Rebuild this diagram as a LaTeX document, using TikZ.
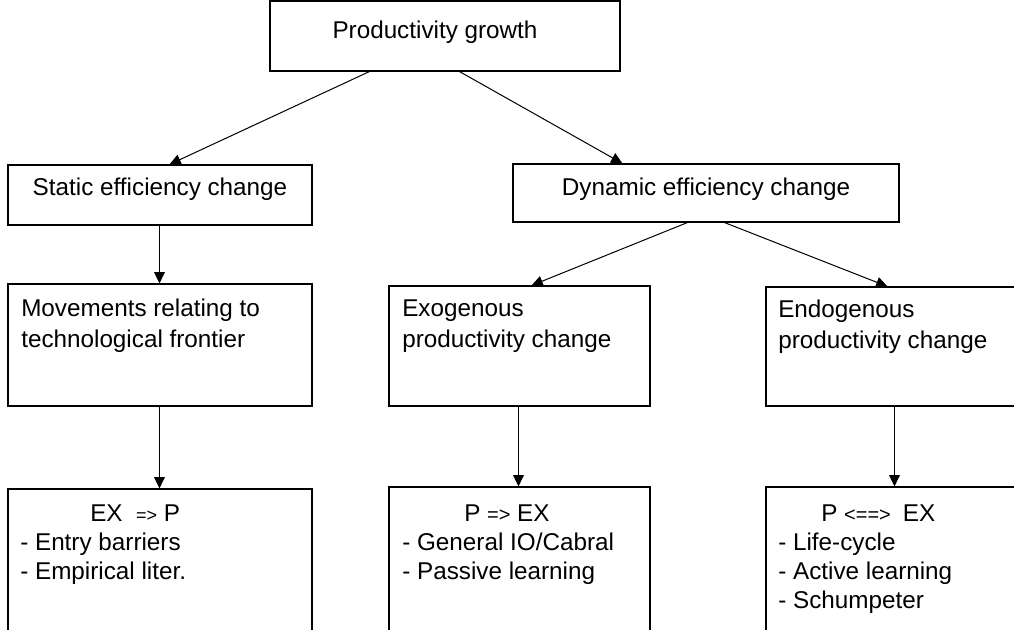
\documentclass[tikz,border=0pt]{standalone}
\usepackage{fontspec}
\setmainfont{Liberation Sans}
\usetikzlibrary{fit,calc,arrows.meta}
\newcommand{\arrf}{\fontsize{13.5}{16}\selectfont}
\newcommand{\arrg}{\fontsize{15}{18}\selectfont}
\tikzset{
  box/.style={draw=black, line width=0.8pt, inner sep=0pt},
  txt/.style={inner sep=0pt, font=\fontsize{18.2}{22}\selectfont},
  conn/.style={draw=black, line width=0.75pt, -{Triangle[length=8.5pt,width=8pt]}},
}
\begin{document}
\begin{tikzpicture}[x=0.75pt,y=-0.75pt]
\useasboundingbox (0,0) rectangle (1014,629);
\clip (0,0) rectangle (1014,629);
\fill[white] (0,0) rectangle (1014,629);

% box corners
\coordinate (a1) at (270,1);   \coordinate (a2) at (620,71);
\coordinate (b1) at (8,165);   \coordinate (b2) at (312,225);
\coordinate (c1) at (513,164); \coordinate (c2) at (899,222);
\coordinate (d1) at (8,284);   \coordinate (d2) at (312,406);
\coordinate (e1) at (389,286); \coordinate (e2) at (650,406);
\coordinate (f1) at (766,287); \coordinate (f2) at (1040,406);
\coordinate (g1) at (8,489);   \coordinate (g2) at (312,680);
\coordinate (h1) at (389,487); \coordinate (h2) at (650,680);
\coordinate (i1) at (766,487); \coordinate (i2) at (1040,680);

% boxes
\node[box, fit=(a1)(a2)] (top) {};
\node[box, fit=(b1)(b2)] (stat) {};
\node[box, fit=(c1)(c2)] (dyn) {};
\node[box, fit=(d1)(d2)] (mov) {};
\node[box, fit=(e1)(e2)] (exo) {};
\node[box, fit=(f1)(f2)] (endo) {};
\node[box, fit=(g1)(g2)] (bl) {};
\node[box, fit=(h1)(h2)] (bm) {};
\node[box, fit=(i1)(i2)] (br) {};

% texts
\node[txt, anchor=base] (ttop) at (435,38) {Productivity growth};
\node[txt, anchor=base] (tstat) at (160,195) {Static efficiency change};
\node[txt, anchor=base] (tdyn) at (706,195) {Dynamic efficiency change};

\node[txt, anchor=base west] (tmov1) at (21,316) {Movements relating to};
\node[txt, anchor=base west] (tmov2) at (21,347) {technological frontier};
\node[txt, anchor=base west] (texo1) at (402,316) {Exogenous};
\node[txt, anchor=base west] (texo2) at (402,347) {productivity change};
\node[txt, anchor=base west] (tendo1) at (778,317) {Endogenous};
\node[txt, anchor=base west] (tendo2) at (778,348) {productivity change};

\node[txt, anchor=base west] (tbl0) at (90,521) {EX\ \ {\arrf =>} P};
\node[txt, anchor=base west] (tbl1) at (20,550) {- Entry barriers};
\node[txt, anchor=base west] (tbl2) at (20,579) {- Empirical liter.};

\node[txt, anchor=base west] (tbm0) at (464,521) {P {\arrg =>}\hspace{5pt}EX};
\node[txt, anchor=base west] (tbm1) at (402,550) {- General IO/Cabral};
\node[txt, anchor=base west] (tbm2) at (402,579) {- Passive learning};

\node[txt, anchor=base west] (tbr0) at (821,521) {P {\arrg <==>}\hspace{9pt}EX};
\node[txt, anchor=base west] (tbr1) at (778,550) {- Life-cycle};
\node[txt, anchor=base west] (tbr2) at (778,579) {- Active learning};
\node[txt, anchor=base west] (tbr3) at (778,608) {- Schumpeter};

% connectors
\draw[conn] ($(top.south west)+(100,0)$) -- ($(stat.north west)+(162,0)$);
\draw[conn] ($(top.south west)+(190,0)$) -- ($(dyn.north west)+(110,0)$);
\draw[conn] ($(stat.south west)+(152,0)$) -- ($(mov.north west)+(152,0)$);
\draw[conn] ($(mov.south west)+(152,0)$) -- ($(bl.north west)+(152,0)$);
\draw[conn] ($(dyn.south west)+(175,0)$) -- ($(exo.north west)+(143,0)$);
\draw[conn] ($(dyn.south west)+(212,0)$) -- ($(endo.north west)+(122,0)$);
\draw[conn] ($(exo.south west)+(130,0)$) -- ($(bm.north west)+(130,0)$);
\draw[conn] ($(endo.south west)+(129,0)$) -- ($(br.north west)+(129,0)$);
\end{tikzpicture}
\end{document}
